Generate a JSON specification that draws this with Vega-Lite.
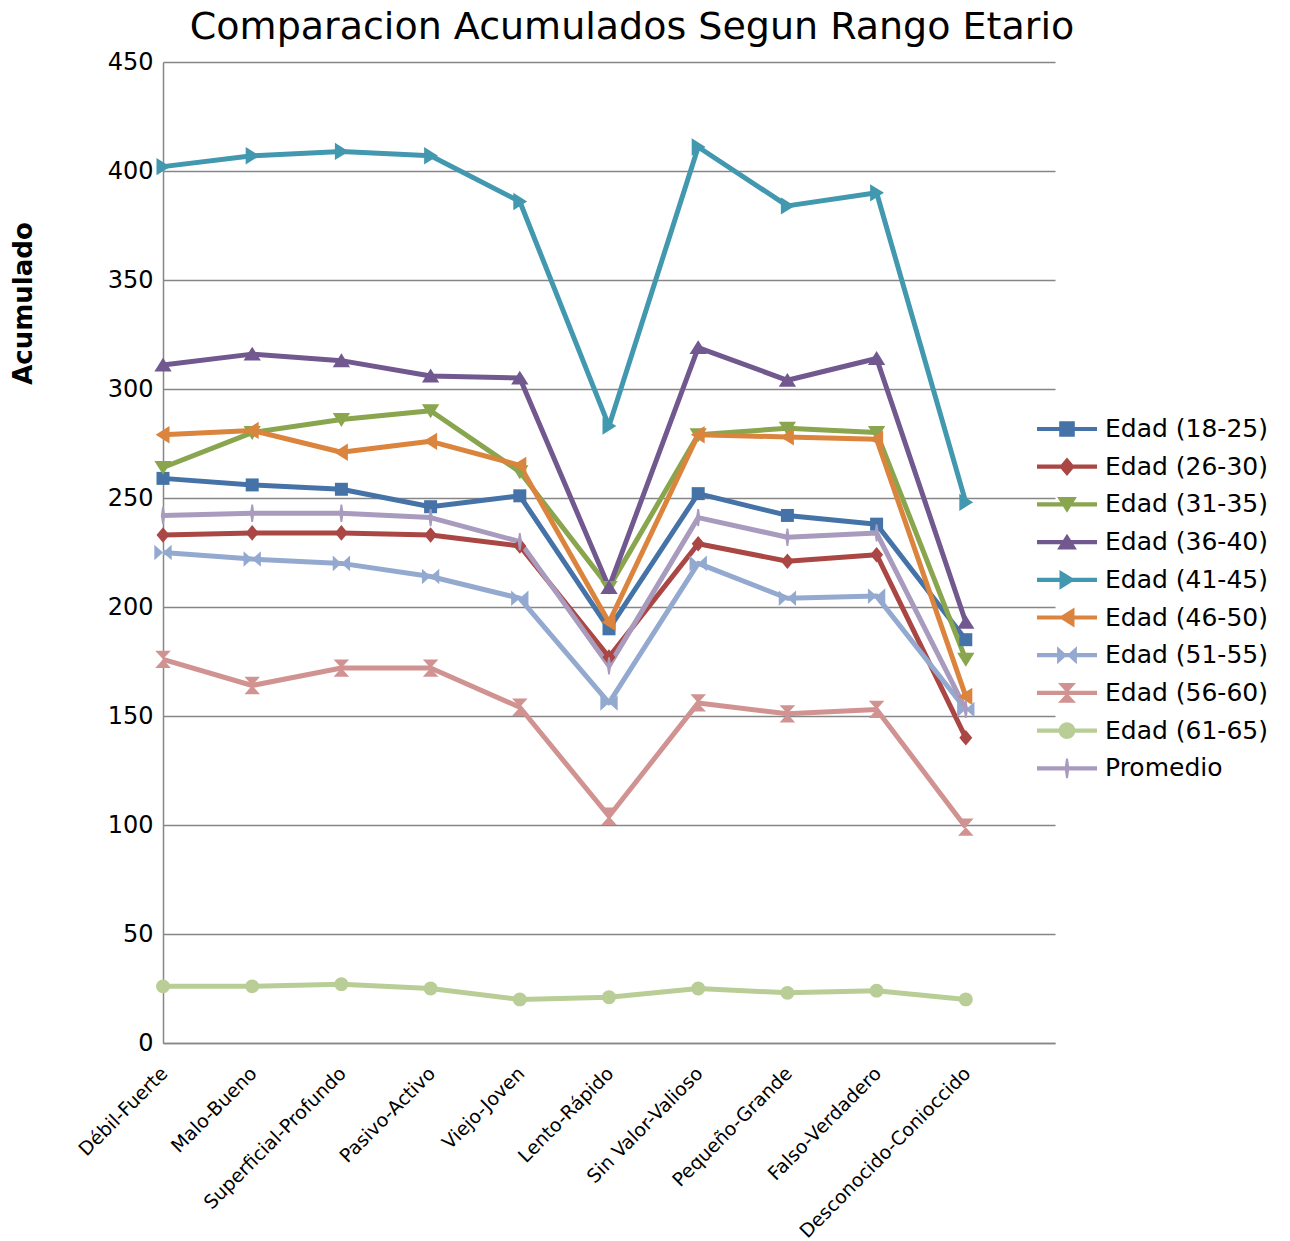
{
  "$schema": "https://vega.github.io/schema/vega-lite/v6.json",
  "autosize": {"type": "none"},
  "width": 892,
  "height": 981,
  "padding": {"left": 163, "top": 62, "right": 235, "bottom": 198},
  "background": "white",
  "title": {"text": "Comparacion Acumulados Segun Rango Etario", "font": "DejaVu Sans", "fontSize": 38, "fontWeight": "normal", "color": "black", "anchor": "middle", "dx": 23, "dy": 50, "baseline": "bottom", "offset": 15},
  "config": {"view": {"stroke": null}, "font": "DejaVu Sans"},
  "data": {"values": [
    {"par":"Débil-Fuerte","serie":"Edad (18-25)","valor":259},{"par":"Malo-Bueno","serie":"Edad (18-25)","valor":256},{"par":"Superficial-Profundo","serie":"Edad (18-25)","valor":254},{"par":"Pasivo-Activo","serie":"Edad (18-25)","valor":246},{"par":"Viejo-Joven","serie":"Edad (18-25)","valor":251},{"par":"Lento-Rápido","serie":"Edad (18-25)","valor":190},{"par":"Sin Valor-Valioso","serie":"Edad (18-25)","valor":252},{"par":"Pequeño-Grande","serie":"Edad (18-25)","valor":242},{"par":"Falso-Verdadero","serie":"Edad (18-25)","valor":238},{"par":"Desconocido-Conioccido","serie":"Edad (18-25)","valor":185},
    {"par":"Débil-Fuerte","serie":"Edad (26-30)","valor":233},{"par":"Malo-Bueno","serie":"Edad (26-30)","valor":234},{"par":"Superficial-Profundo","serie":"Edad (26-30)","valor":234},{"par":"Pasivo-Activo","serie":"Edad (26-30)","valor":233},{"par":"Viejo-Joven","serie":"Edad (26-30)","valor":228},{"par":"Lento-Rápido","serie":"Edad (26-30)","valor":177},{"par":"Sin Valor-Valioso","serie":"Edad (26-30)","valor":229},{"par":"Pequeño-Grande","serie":"Edad (26-30)","valor":221},{"par":"Falso-Verdadero","serie":"Edad (26-30)","valor":224},{"par":"Desconocido-Conioccido","serie":"Edad (26-30)","valor":140},
    {"par":"Débil-Fuerte","serie":"Edad (31-35)","valor":264},{"par":"Malo-Bueno","serie":"Edad (31-35)","valor":280},{"par":"Superficial-Profundo","serie":"Edad (31-35)","valor":286},{"par":"Pasivo-Activo","serie":"Edad (31-35)","valor":290},{"par":"Viejo-Joven","serie":"Edad (31-35)","valor":262},{"par":"Lento-Rápido","serie":"Edad (31-35)","valor":209},{"par":"Sin Valor-Valioso","serie":"Edad (31-35)","valor":279},{"par":"Pequeño-Grande","serie":"Edad (31-35)","valor":282},{"par":"Falso-Verdadero","serie":"Edad (31-35)","valor":280},{"par":"Desconocido-Conioccido","serie":"Edad (31-35)","valor":176},
    {"par":"Débil-Fuerte","serie":"Edad (36-40)","valor":311},{"par":"Malo-Bueno","serie":"Edad (36-40)","valor":316},{"par":"Superficial-Profundo","serie":"Edad (36-40)","valor":313},{"par":"Pasivo-Activo","serie":"Edad (36-40)","valor":306},{"par":"Viejo-Joven","serie":"Edad (36-40)","valor":305},{"par":"Lento-Rápido","serie":"Edad (36-40)","valor":209},{"par":"Sin Valor-Valioso","serie":"Edad (36-40)","valor":319},{"par":"Pequeño-Grande","serie":"Edad (36-40)","valor":304},{"par":"Falso-Verdadero","serie":"Edad (36-40)","valor":314},{"par":"Desconocido-Conioccido","serie":"Edad (36-40)","valor":193},
    {"par":"Débil-Fuerte","serie":"Edad (41-45)","valor":402},{"par":"Malo-Bueno","serie":"Edad (41-45)","valor":407},{"par":"Superficial-Profundo","serie":"Edad (41-45)","valor":409},{"par":"Pasivo-Activo","serie":"Edad (41-45)","valor":407},{"par":"Viejo-Joven","serie":"Edad (41-45)","valor":386},{"par":"Lento-Rápido","serie":"Edad (41-45)","valor":283},{"par":"Sin Valor-Valioso","serie":"Edad (41-45)","valor":411},{"par":"Pequeño-Grande","serie":"Edad (41-45)","valor":384},{"par":"Falso-Verdadero","serie":"Edad (41-45)","valor":390},{"par":"Desconocido-Conioccido","serie":"Edad (41-45)","valor":248},
    {"par":"Débil-Fuerte","serie":"Edad (46-50)","valor":279},{"par":"Malo-Bueno","serie":"Edad (46-50)","valor":281},{"par":"Superficial-Profundo","serie":"Edad (46-50)","valor":271},{"par":"Pasivo-Activo","serie":"Edad (46-50)","valor":276},{"par":"Viejo-Joven","serie":"Edad (46-50)","valor":265},{"par":"Lento-Rápido","serie":"Edad (46-50)","valor":193},{"par":"Sin Valor-Valioso","serie":"Edad (46-50)","valor":279},{"par":"Pequeño-Grande","serie":"Edad (46-50)","valor":278},{"par":"Falso-Verdadero","serie":"Edad (46-50)","valor":277},{"par":"Desconocido-Conioccido","serie":"Edad (46-50)","valor":159},
    {"par":"Débil-Fuerte","serie":"Edad (51-55)","valor":225},{"par":"Malo-Bueno","serie":"Edad (51-55)","valor":222},{"par":"Superficial-Profundo","serie":"Edad (51-55)","valor":220},{"par":"Pasivo-Activo","serie":"Edad (51-55)","valor":214},{"par":"Viejo-Joven","serie":"Edad (51-55)","valor":204},{"par":"Lento-Rápido","serie":"Edad (51-55)","valor":156},{"par":"Sin Valor-Valioso","serie":"Edad (51-55)","valor":220},{"par":"Pequeño-Grande","serie":"Edad (51-55)","valor":204},{"par":"Falso-Verdadero","serie":"Edad (51-55)","valor":205},{"par":"Desconocido-Conioccido","serie":"Edad (51-55)","valor":153},
    {"par":"Débil-Fuerte","serie":"Edad (56-60)","valor":176},{"par":"Malo-Bueno","serie":"Edad (56-60)","valor":164},{"par":"Superficial-Profundo","serie":"Edad (56-60)","valor":172},{"par":"Pasivo-Activo","serie":"Edad (56-60)","valor":172},{"par":"Viejo-Joven","serie":"Edad (56-60)","valor":154},{"par":"Lento-Rápido","serie":"Edad (56-60)","valor":104},{"par":"Sin Valor-Valioso","serie":"Edad (56-60)","valor":156},{"par":"Pequeño-Grande","serie":"Edad (56-60)","valor":151},{"par":"Falso-Verdadero","serie":"Edad (56-60)","valor":153},{"par":"Desconocido-Conioccido","serie":"Edad (56-60)","valor":99},
    {"par":"Débil-Fuerte","serie":"Edad (61-65)","valor":26},{"par":"Malo-Bueno","serie":"Edad (61-65)","valor":26},{"par":"Superficial-Profundo","serie":"Edad (61-65)","valor":27},{"par":"Pasivo-Activo","serie":"Edad (61-65)","valor":25},{"par":"Viejo-Joven","serie":"Edad (61-65)","valor":20},{"par":"Lento-Rápido","serie":"Edad (61-65)","valor":21},{"par":"Sin Valor-Valioso","serie":"Edad (61-65)","valor":25},{"par":"Pequeño-Grande","serie":"Edad (61-65)","valor":23},{"par":"Falso-Verdadero","serie":"Edad (61-65)","valor":24},{"par":"Desconocido-Conioccido","serie":"Edad (61-65)","valor":20},
    {"par":"Débil-Fuerte","serie":"Promedio","valor":242},{"par":"Malo-Bueno","serie":"Promedio","valor":243},{"par":"Superficial-Profundo","serie":"Promedio","valor":243},{"par":"Pasivo-Activo","serie":"Promedio","valor":241},{"par":"Viejo-Joven","serie":"Promedio","valor":230},{"par":"Lento-Rápido","serie":"Promedio","valor":173},{"par":"Sin Valor-Valioso","serie":"Promedio","valor":241},{"par":"Pequeño-Grande","serie":"Promedio","valor":232},{"par":"Falso-Verdadero","serie":"Promedio","valor":234},{"par":"Desconocido-Conioccido","serie":"Promedio","valor":153}
  ]},
  "encoding": {
    "x": {"field": "par", "type": "nominal", "bandPosition": 0, "sort": null,
      "scale": {"type": "band", "paddingInner": 0, "paddingOuter": 0, "domain": ["Débil-Fuerte","Malo-Bueno","Superficial-Profundo","Pasivo-Activo","Viejo-Joven","Lento-Rápido","Sin Valor-Valioso","Pequeño-Grande","Falso-Verdadero","Desconocido-Conioccido"]},
      "axis": {"title": null, "labelAngle": -45, "labelAlign": "right", "labelBaseline": "middle", "labelFont": "DejaVu Sans", "labelFontSize": 19, "labelColor": "black", "labelPadding": 27, "labelOffset": -43, "labelLimit": 500, "ticks": false, "domainColor": "#868686", "domainWidth": 1.5, "grid": false}},
    "y": {"field": "valor", "type": "quantitative",
      "scale": {"domain": [0, 450], "nice": false, "zero": true},
      "axis": {"title": "Acumulado", "values": [0,50,100,150,200,250,300,350,400,450], "titleFont": "DejaVu Sans", "titleFontSize": 26, "titleFontWeight": "bold", "titleColor": "black", "titleX": -140, "titleY": 241, "titleAngle": -90, "titleAlign": "center", "titleBaseline": "middle", "labelFont": "DejaVu Sans", "labelFontSize": 24, "labelColor": "black", "labelPadding": 10, "ticks": false, "domainColor": "#868686", "domainWidth": 1.5, "grid": true, "gridColor": "#868686", "gridWidth": 1.5}}
  },
  "layer": [
    {
      "mark": {"type": "line", "strokeWidth": 5, "strokeJoin": "round"},
      "encoding": {
        "color": {"field": "serie", "type": "nominal", "legend": null,
          "scale": {"domain": ["Edad (18-25)","Edad (26-30)","Edad (31-35)","Edad (36-40)","Edad (41-45)","Edad (46-50)","Edad (51-55)","Edad (56-60)","Edad (61-65)","Promedio"],
            "range": ["#4572A7","#AA4643","#89A54E","#71588F","#4198AF","#DB843D","#93A9CF","#D19392","#B9CD96","#A99BBD"]}}
      }
    },
    {
      "mark": {"type": "point", "filled": true, "size": 300, "opacity": 1, "strokeWidth": 0},
      "encoding": {
        "color": {"field": "serie", "type": "nominal", "legend": null,
          "scale": {"domain": ["Edad (18-25)","Edad (26-30)","Edad (31-35)","Edad (36-40)","Edad (41-45)","Edad (46-50)","Edad (51-55)","Edad (56-60)","Edad (61-65)","Promedio"],
            "range": ["#4572A7","#AA4643","#89A54E","#71588F","#4198AF","#DB843D","#93A9CF","#D19392","#B9CD96","#A99BBD"]}},
        "shape": {"field": "serie", "type": "nominal", "legend": null,
          "scale": {"domain": ["Edad (18-25)","Edad (26-30)","Edad (31-35)","Edad (36-40)","Edad (41-45)","Edad (46-50)","Edad (51-55)","Edad (56-60)","Edad (61-65)","Promedio"],
            "range": [
              "M-0.75,-0.75H0.75V0.75H-0.75Z",
              "M0,-0.9L0.75,0L0,0.9L-0.75,0Z",
              "M-1,-0.75H1L0,0.85Z",
              "M-1,0.75H1L0,-0.85Z",
              "M-0.75,-1V1L0.85,0Z",
              "M0.75,-1V1L-0.85,0Z",
              "M-1,-0.9L0,0L-1,0.9Z M1,-0.9L0,0L1,0.9Z",
              "M-0.9,-1H0.9L0,0Z M-0.9,1H0.9L0,0Z",
              "M0.8,0A0.8,0.8 0 1,1 -0.8,0A0.8,0.8 0 1,1 0.8,0Z",
              "M-0.1,-1H0.1L0.25,0L0.1,1H-0.1L-0.25,0Z"
            ]}}
      }
    },
    {
      "transform": [{"filter": "datum.serie == 'ninguna'"}],
      "mark": {"type": "point", "filled": true, "opacity": 1, "strokeWidth": 0},
      "encoding": {
        "color": {"field": "serie", "type": "nominal",
          "scale": {"domain": ["Edad (18-25)","Edad (26-30)","Edad (31-35)","Edad (36-40)","Edad (41-45)","Edad (46-50)","Edad (51-55)","Edad (56-60)","Edad (61-65)","Promedio"],
            "range": ["#4572A7","#AA4643","#89A54E","#71588F","#4198AF","#DB843D","#93A9CF","#D19392","#B9CD96","#A99BBD"]},
          "legend": {"title": null, "orient": "none", "legendX": 874, "legendY": 351, "labelFont": "DejaVu Sans", "labelFontSize": 25, "labelColor": "black", "labelLimit": 400, "symbolSize": 3600, "symbolStrokeWidth": 0, "labelOffset": 8, "clipHeight": 32, "rowPadding": 5.7, "symbolLimit": 0}},
        "shape": {"field": "serie", "type": "nominal",
          "scale": {"domain": ["Edad (18-25)","Edad (26-30)","Edad (31-35)","Edad (36-40)","Edad (41-45)","Edad (46-50)","Edad (51-55)","Edad (56-60)","Edad (61-65)","Promedio"],
            "range": [
              "M-1,-0.07H1V0.07H-1Z M-0.26,-0.26H0.26V0.26H-0.26Z",
              "M-1,-0.07H1V0.07H-1Z M0,-0.31L0.26,0L0,0.31L-0.26,0Z",
              "M-1,-0.07H1V0.07H-1Z M-0.33,-0.25H0.33L0,0.28Z",
              "M-1,-0.07H1V0.07H-1Z M-0.33,0.25L0,-0.28L0.33,0.25Z",
              "M-1,-0.07H1V0.07H-1Z M-0.25,-0.33L0.28,0L-0.25,0.33Z",
              "M-1,-0.07H1V0.07H-1Z M0.25,-0.33V0.33L-0.28,0Z",
              "M-1,-0.07H1V0.07H-1Z M-0.33,-0.3L0,0L-0.33,0.3Z M0.33,-0.3L0.33,0.3L0,0Z",
              "M-1,-0.07H1V0.07H-1Z M-0.3,-0.33H0.3L0,0Z M0.3,0.33H-0.3L0,0Z",
              "M-1,-0.07H1V0.07H-1Z M0.28,0A0.28,0.28 0 1,1 -0.28,0A0.28,0.28 0 1,1 0.28,0Z",
              "M-1,-0.07H1V0.07H-1Z M-0.033,-0.33H0.033L0.08,0L0.033,0.33H-0.033L-0.08,0Z"
            ]},
          "legend": {"title": null, "orient": "none", "legendX": 874, "legendY": 351, "labelFont": "DejaVu Sans", "labelFontSize": 25, "labelColor": "black", "labelLimit": 400, "symbolSize": 3600, "symbolStrokeWidth": 0, "labelOffset": 8, "clipHeight": 32, "rowPadding": 5.7, "symbolLimit": 0}}
      }
    }
  ],
  "resolve": {"scale": {"shape": "independent", "color": "independent"}}
}
